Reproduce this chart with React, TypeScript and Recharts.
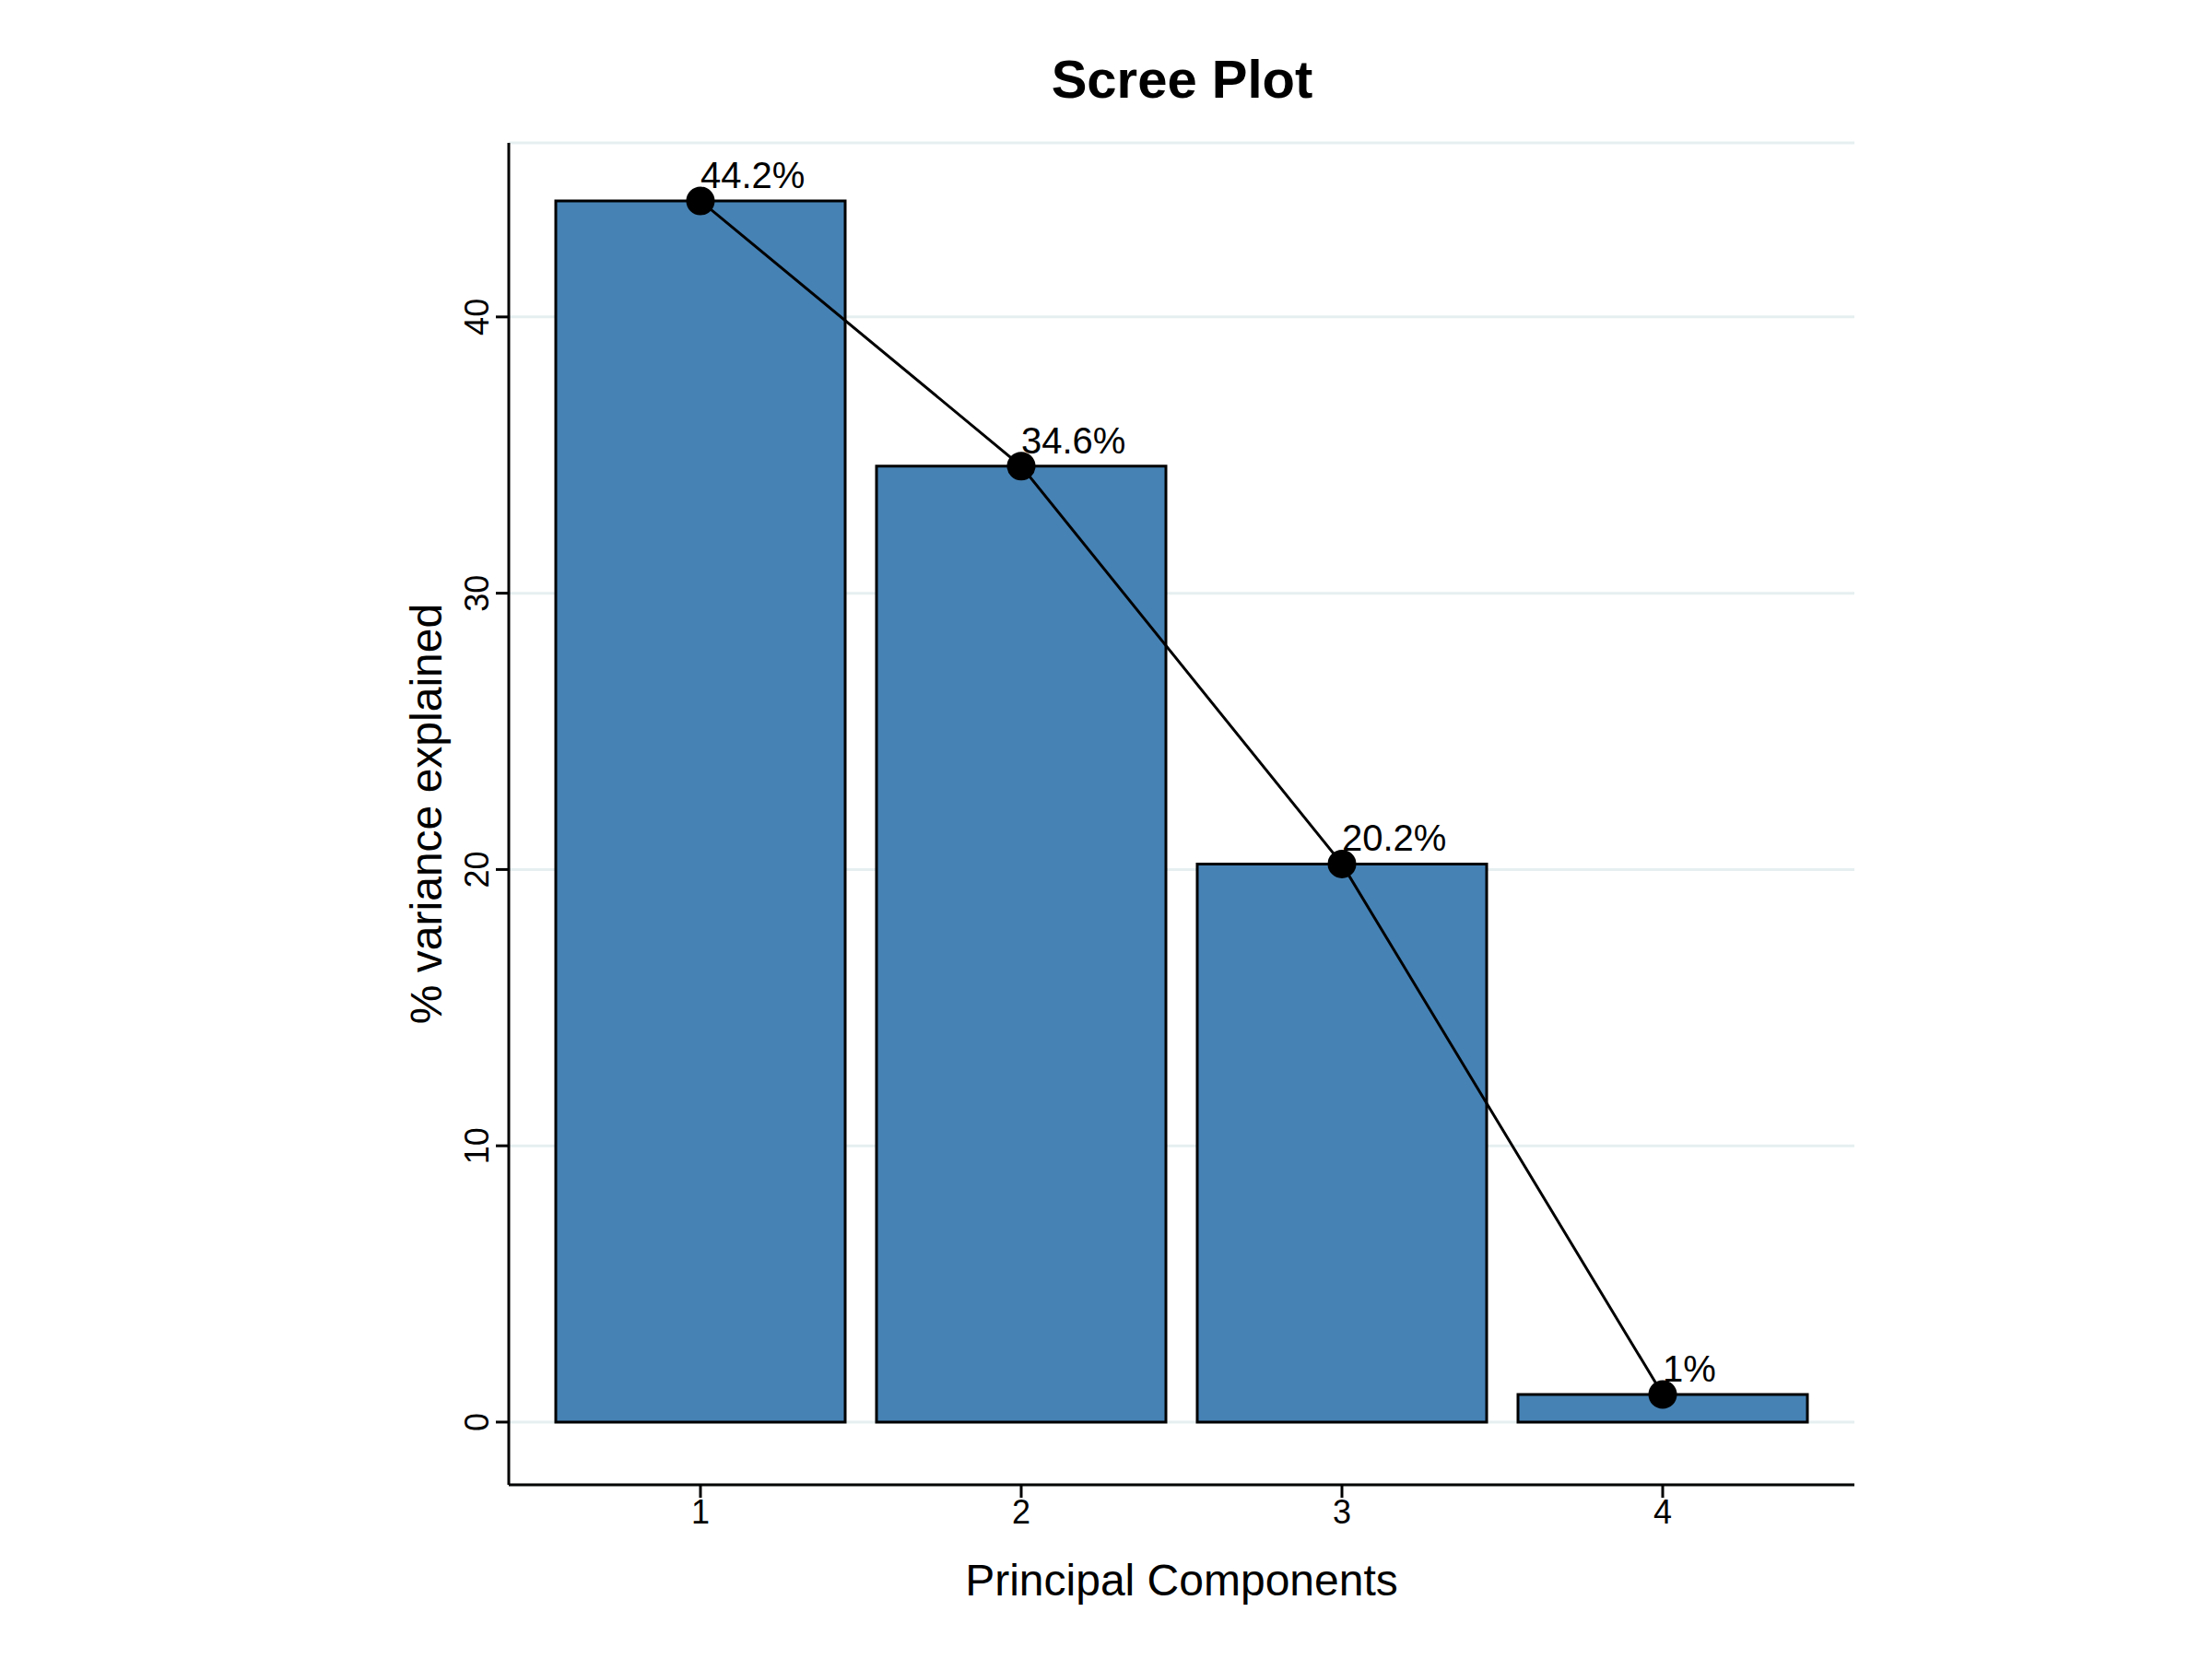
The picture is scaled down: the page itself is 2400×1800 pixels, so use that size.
import { ComposedChart, Bar, Line, XAxis, YAxis, CartesianGrid, LabelList } from 'recharts'

const components = ['1', '2', '3', '4']
const variance = [44.2, 34.6, 20.2, 1]
const yTicks = [0, 10, 20, 30, 40]

const data = components.map((c, i) => ({ pc: c, v: variance[i] }))
const FONT = 'Liberation Sans, Arial, sans-serif'

const PctLabel = (props: any) => {
  const { x, y, value } = props
  return (
    <text x={x} y={y - 14} fontSize={40} fontFamily={FONT} fill="#000" textAnchor="start">
      {`${value}%`}
    </text>
  )
}

const YTick = (props: any) => {
  const { x, y, payload } = props
  return (
    <text x={x - 6} y={y} fontSize={36} fontFamily={FONT} fill="#000" textAnchor="middle"
      transform={`rotate(-90 ${x - 6} ${y})`}>
      {payload.value}
    </text>
  )
}

export default function App() {
  return (
    <div style={{ margin: -8, width: 2400, height: 1800, background: '#fff', position: 'relative', fontFamily: FONT }}>
      <div style={{ position: 'absolute', top: 52, width: 2400, textAlign: 'center', fontSize: 58, fontWeight: 'bold', left: 0 }}>
        <span style={{ marginLeft: 165 }}>Scree Plot</span>
      </div>
      <ComposedChart width={2400} height={1800} data={data}
        margin={{ top: 155, right: 388, left: 452, bottom: 89 }} barCategoryGap={17}>
        <CartesianGrid vertical={false} stroke="#e6eff0" strokeWidth={3} />
        <XAxis dataKey="pc" height={100} padding={{ left: 34, right: 34 }}
          stroke="#000" strokeWidth={3} tickSize={14} tickLine={{ stroke: '#000', strokeWidth: 3 }}
          tick={{ fontSize: 36, fill: '#000', fontFamily: FONT }}
          label={{ value: 'Principal Components', position: 'insideBottom', offset: -20, fontSize: 48, fill: '#000', fontFamily: FONT }} />
        <YAxis width={100} domain={[-2.27, 46.3]} ticks={yTicks} allowDataOverflow
          stroke="#000" strokeWidth={3} tickSize={14} tickLine={{ stroke: '#000', strokeWidth: 3 }}
          tick={<YTick />}
          label={{ value: '% variance explained', angle: -90, position: 'insideLeft', offset: 10, dy: 0, fontSize: 48, fill: '#000', fontFamily: FONT, style: { textAnchor: 'middle' } }} />
        <Bar dataKey="v" fill="#4682b4" stroke="#000" strokeWidth={3} isAnimationActive={false} />
        <Line dataKey="v" stroke="#000" strokeWidth={3} isAnimationActive={false}
          dot={{ r: 14, fill: '#000', stroke: '#000' }}>
          <LabelList dataKey="v" content={<PctLabel />} />
        </Line>
      </ComposedChart>
    </div>
  )
}
